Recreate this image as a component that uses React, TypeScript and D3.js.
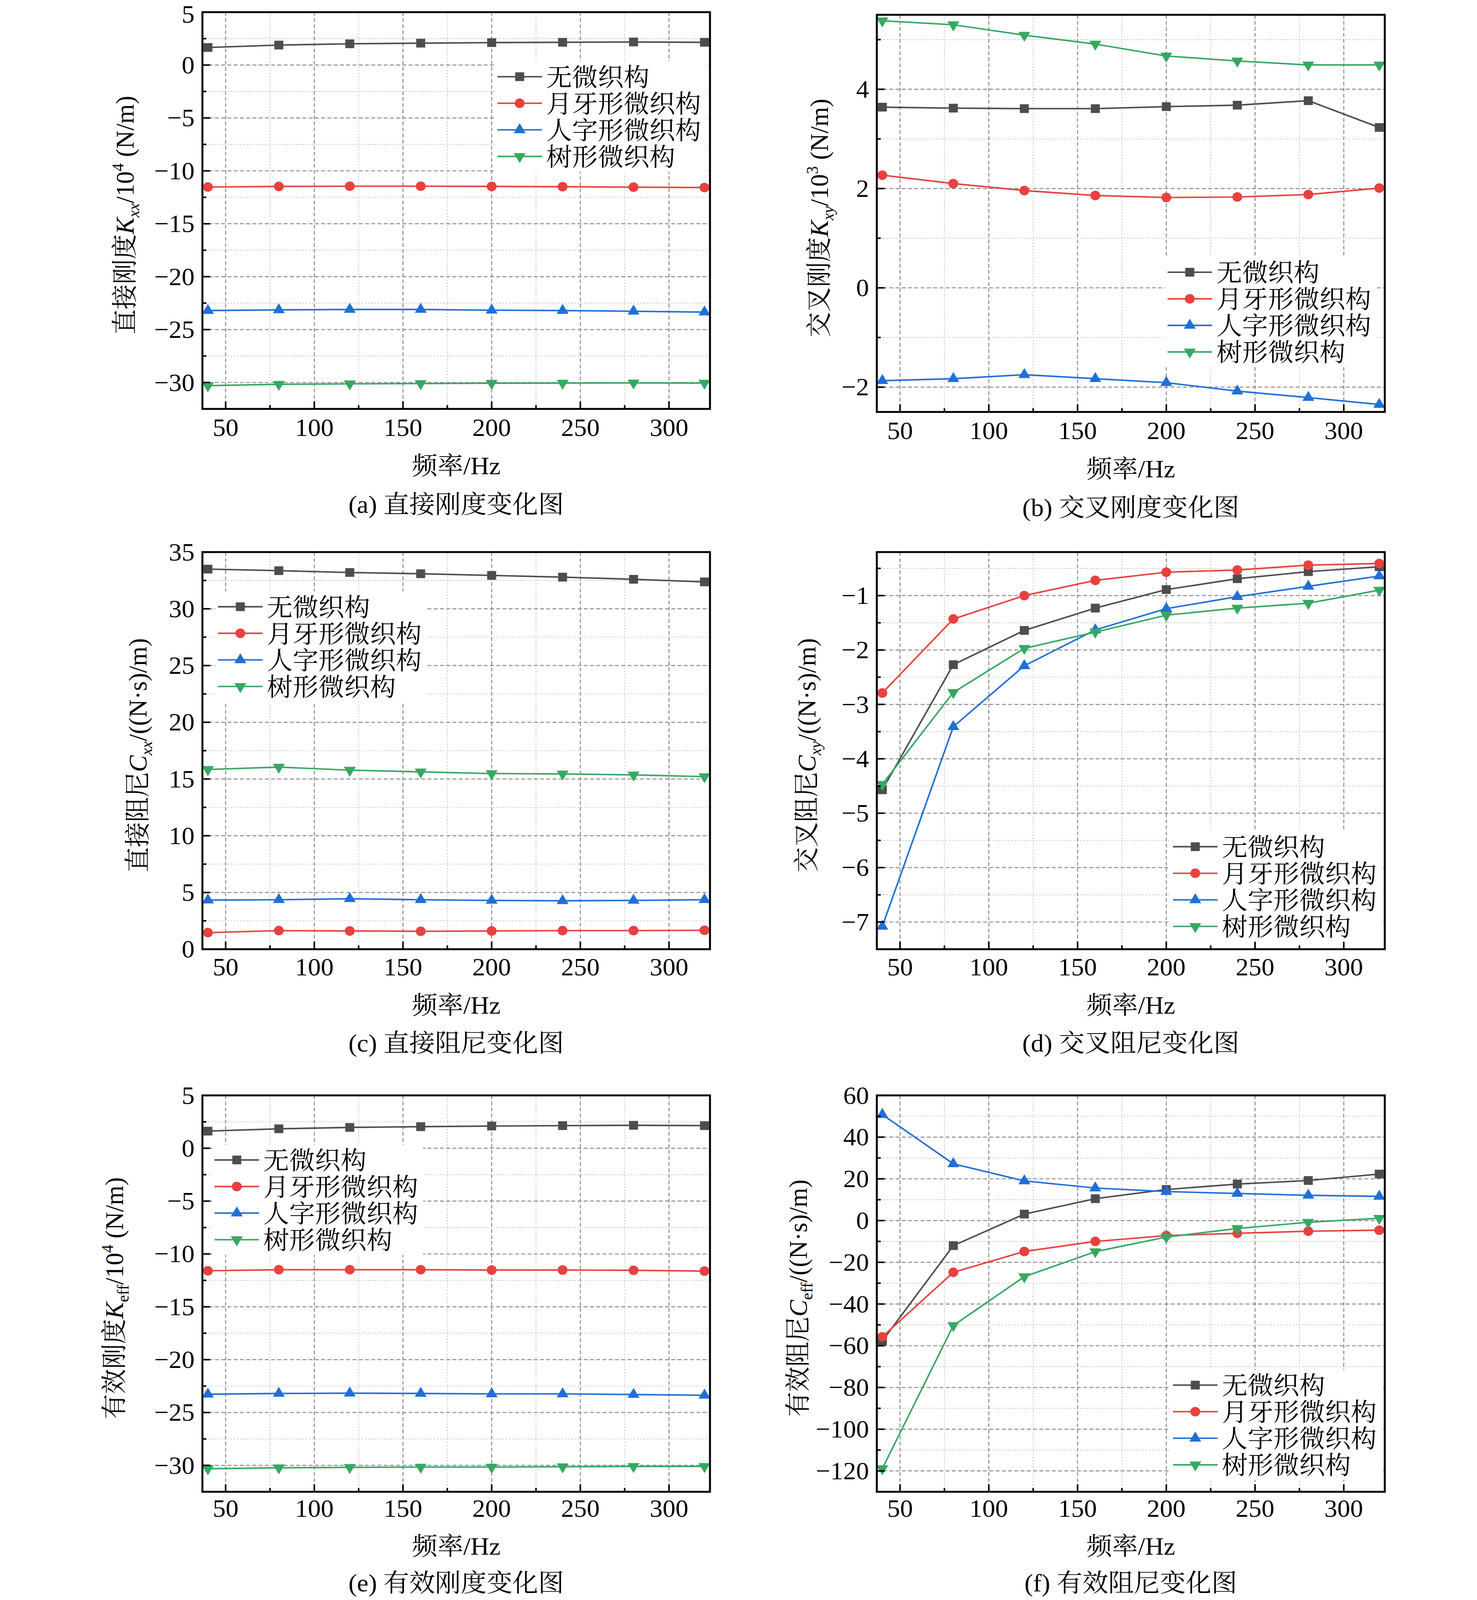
import * as d3 from 'd3';

// shared x axis
const freq = [40, 80, 120, 160, 200, 240, 280, 320];
const freqTicks = [50, 100, 150, 200, 250, 300];
const seriesNames = ['无微织构', '月牙形微织构', '人字形微织构', '树形微织构'];

// (a) direct stiffness Kxx / 10^4 N/m
const kxxNone = [1.66, 1.89, 2.01, 2.07, 2.12, 2.15, 2.18, 2.15];
const kxxCrescent = [-11.53, -11.47, -11.45, -11.45, -11.47, -11.5, -11.54, -11.58];
const kxxChevron = [-23.2, -23.14, -23.1, -23.1, -23.17, -23.2, -23.27, -23.35];
const kxxTree = [-30.3, -30.17, -30.13, -30.1, -30.07, -30.06, -30.04, -30.06];
const kxxTicks = [5, 0, -5, -10, -15, -20, -25, -30];

// (b) cross stiffness Kxy / 10^3 N/m
const kxyNone = [3.64, 3.62, 3.61, 3.61, 3.65, 3.68, 3.77, 3.23];
const kxyCrescent = [2.27, 2.1, 1.96, 1.86, 1.82, 1.83, 1.88, 2.01];
const kxyChevron = [-1.87, -1.83, -1.75, -1.83, -1.91, -2.08, -2.21, -2.35];
const kxyTree = [5.38, 5.3, 5.09, 4.91, 4.67, 4.57, 4.49, 4.49];
const kxyTicks = [4, 2, 0, -2];

// (c) direct damping Cxx
const cxxNone = [33.5, 33.36, 33.2, 33.09, 32.94, 32.79, 32.6, 32.37];
const cxxCrescent = [1.46, 1.64, 1.61, 1.58, 1.61, 1.64, 1.64, 1.67];
const cxxChevron = [4.33, 4.36, 4.45, 4.36, 4.3, 4.27, 4.3, 4.36];
const cxxTree = [15.84, 16.05, 15.78, 15.63, 15.48, 15.45, 15.36, 15.21];
const cxxTicks = [35, 30, 25, 20, 15, 10, 5, 0];

// (d) cross damping Cxy
const cxyNone = [-4.57, -2.27, -1.64, -1.23, -0.89, -0.69, -0.56, -0.47];
const cxyCrescent = [-2.79, -1.43, -1.0, -0.72, -0.57, -0.53, -0.44, -0.41];
const cxyChevron = [-7.08, -3.41, -2.29, -1.63, -1.24, -1.02, -0.83, -0.64];
const cxyTree = [-4.47, -2.78, -1.97, -1.67, -1.36, -1.23, -1.14, -0.9];
const cxyTicks = [-1, -2, -3, -4, -5, -6, -7];

// (e) effective stiffness Keff / 10^4 N/m
const keffNone = [1.62, 1.84, 1.97, 2.04, 2.1, 2.14, 2.17, 2.14];
const keffCrescent = [-11.59, -11.49, -11.49, -11.49, -11.52, -11.52, -11.55, -11.62];
const keffChevron = [-23.27, -23.2, -23.17, -23.2, -23.24, -23.24, -23.3, -23.37];
const keffTree = [-30.32, -30.23, -30.19, -30.16, -30.16, -30.13, -30.1, -30.1];
const keffTicks = [5, 0, -5, -10, -15, -20, -25, -30];

// (f) effective damping Ceff
const ceffNone = [-57.7, -12, 3.1, 10.5, 14.9, 17.5, 19.2, 22.3];
const ceffCrescent = [-55.7, -24.8, -14.8, -10, -7.2, -6.1, -5.1, -4.6];
const ceffChevron = [50.8, 27.2, 19, 15.6, 13.9, 13, 12.1, 11.6];
const ceffTree = [-118.9, -50.3, -26.9, -14.9, -7.9, -3.8, -0.8, 1.1];
const ceffTicks = [60, 40, 20, 0, -20, -40, -60, -80, -100, -120];

const COLORS = ['#4d4d4d', '#e8413f', '#1f6fd8', '#36a862'];
const SHAPES = ['square', 'circle', 'up', 'down'];
const FONT =
  "'Liberation Serif', 'Times New Roman', 'Noto Serif CJK SC', 'Noto Sans CJK SC', serif";
const FS = 66;
const X_DOMAIN: [number, number] = [36.9, 323.1];
// drawing space of the original figure; the viewport is shorter, so it is fitted into it
const W = 3780;
const H = 4214;

type Seg = { t: string; i?: boolean; sub?: boolean; sup?: boolean };

const kLabel = (name: string, sub: string, pow: string, italicSub = true): Seg[] => [
  { t: name },
  { t: 'K', i: true },
  { t: sub, sub: true, i: italicSub },
  { t: '/10' },
  { t: pow, sup: true },
  { t: ' (N/m)' },
];
const cLabel = (name: string, sub: string, italicSub = true): Seg[] => [
  { t: name },
  { t: 'C', i: true },
  { t: sub, sub: true, i: italicSub },
  { t: '/((N·s)/m)' },
];

const panels = [
  {
    id: 'a', left: 518, right: 1817, top: 32, bottom: 1077, yDomain: [-32.5, 5], step: 5,
    ticks: kxxTicks, series: [kxxNone, kxxCrescent, kxxChevron, kxxTree],
    label: kLabel('直接刚度', 'xx', '4'), labelOff: 199, legend: [1273, 202],
    caption: '(a) 直接刚度变化图', gaps: [49, 148, 250],
  },
  {
    id: 'b', left: 2244, right: 3544, top: 39, bottom: 1085, yDomain: [-2.5, 5.5], step: 2,
    ticks: kxyTicks, series: [kxyNone, kxyCrescent, kxyChevron, kxyTree],
    label: kLabel('交叉刚度', 'xy', '3'), labelOff: 148, legend: [2988, 717],
    caption: '(b) 交叉刚度变化图', gaps: [49, 148, 250],
  },
  {
    id: 'c', left: 518, right: 1817, top: 1454, bottom: 2500, yDomain: [0, 35], step: 5,
    ticks: cxxTicks, series: [cxxNone, cxxCrescent, cxxChevron, cxxTree],
    label: cLabel('直接阻尼', 'xx'), labelOff: 166, legend: [558, 1598],
    caption: '(c) 直接阻尼变化图', gaps: [47, 146, 246],
  },
  {
    id: 'd', left: 2244, right: 3544, top: 1454, bottom: 2500, yDomain: [-7.5, -0.2], step: 1,
    ticks: cxyTicks, series: [cxyNone, cxyCrescent, cxyChevron, cxyTree],
    label: cLabel('交叉阻尼', 'xy'), labelOff: 180, legend: [3002, 2230],
    caption: '(d) 交叉阻尼变化图', gaps: [47, 146, 246],
  },
  {
    id: 'e', left: 518, right: 1817, top: 2885, bottom: 3929, yDomain: [-32.5, 5], step: 5,
    ticks: keffTicks, series: [keffNone, keffCrescent, keffChevron, keffTree],
    label: kLabel('有效刚度', 'eff', '4', false), labelOff: 226, legend: [549, 3055],
    caption: '(e) 有效刚度变化图', gaps: [44, 142, 238],
  },
  {
    id: 'f', left: 2244, right: 3544, top: 2885, bottom: 3929, yDomain: [-130, 60], step: 20,
    ticks: ceffTicks, series: [ceffNone, ceffCrescent, ceffChevron, ceffTree],
    label: cLabel('有效阻尼', 'eff', false), labelOff: 202, legend: [3002, 3648],
    caption: '(f) 有效阻尼变化图', gaps: [44, 142, 238],
  },
];

const fmt = (v: number) => (v < 0 ? `\u2212${Math.abs(v)}` : `${v}`);

const symbolPath = (shape: string) => {
  if (shape === 'square') return d3.symbol(d3.symbolSquare, 529)()!;
  if (shape === 'circle') return d3.symbol(d3.symbolCircle, 500)()!;
  return d3.symbol(d3.symbolTriangle, 400)()!;
};

const Marker = ({ x, y, k }: { x: number; y: number; k: number }) => (
  <path
    d={symbolPath(SHAPES[k])}
    transform={`translate(${x},${y})${SHAPES[k] === 'down' ? ' rotate(180)' : ''}`}
    fill={COLORS[k]}
  />
);

// rotated axis title with italic symbol, sub- and superscripts
const LabelText = ({ segs }: { segs: Seg[] }) => {
  let shift = 0;
  return (
    <>
      {segs.map((s, i) => {
        const target = s.sub ? 14 : s.sup ? -26 : 0;
        const dy = target - shift;
        shift = target;
        return (
          <tspan
            key={i}
            dy={dy}
            fontStyle={s.i ? 'italic' : 'normal'}
            fontSize={s.sub || s.sup ? 42 : FS}
          >
            {s.t}
          </tspan>
        );
      })}
    </>
  );
};

function Panel({ p }: { p: (typeof panels)[number] }) {
  const x = d3.scaleLinear().domain(X_DOMAIN).range([p.left, p.right]);
  const y = d3.scaleLinear().domain(p.yDomain).range([p.bottom, p.top]);
  const [yMin, yMax] = p.yDomain;
  const eps = 1e-6;
  const half = p.step / 2;

  const xMinor = d3
    .range(25, 350, 50)
    .filter((v) => v > X_DOMAIN[0] && v < X_DOMAIN[1]);
  const yMinor = d3
    .range(Math.ceil(yMin / half) * half, yMax + eps, half)
    .filter((v) => !p.ticks.some((m) => Math.abs(m - v) < eps));
  const inside = (v: number) => v > yMin + 0.01 && v < yMax - 0.01;

  const line = d3
    .line<number>()
    .x((_, i) => x(freq[i]))
    .y((d) => y(d));

  const cx = (p.left + p.right) / 2;
  const [lx, ly] = p.legend;

  return (
    <g>
      {/* minor grid */}
      {xMinor.map((v) => (
        <line key={`xm${v}`} x1={x(v)} x2={x(v)} y1={p.top} y2={p.bottom}
          stroke="#c8c8c8" strokeWidth={2} strokeDasharray="4 4" />
      ))}
      {yMinor.filter(inside).map((v) => (
        <line key={`ym${v}`} x1={p.left} x2={p.right} y1={y(v)} y2={y(v)}
          stroke="#c8c8c8" strokeWidth={2} strokeDasharray="4 4" />
      ))}
      {/* major grid */}
      {freqTicks.map((v) => (
        <line key={`xg${v}`} x1={x(v)} x2={x(v)} y1={p.top} y2={p.bottom}
          stroke="#8a8a8a" strokeWidth={2.5} strokeDasharray="10 6" />
      ))}
      {p.ticks.filter(inside).map((v) => (
        <line key={`yg${v}`} x1={p.left} x2={p.right} y1={y(v)} y2={y(v)}
          stroke="#8a8a8a" strokeWidth={2.5} strokeDasharray="10 6" />
      ))}

      {/* series */}
      {p.series.map((vals, k) => (
        <g key={`s${k}`}>
          <path d={line(vals)!} fill="none" stroke={COLORS[k]} strokeWidth={4} />
          {vals.map((v, i) => (
            <Marker key={i} x={x(freq[i])} y={y(v)} k={k} />
          ))}
        </g>
      ))}

      {/* ticks, inward */}
      {freqTicks.map((v) => (
        <line key={`xt${v}`} x1={x(v)} x2={x(v)} y1={p.bottom} y2={p.bottom - 20}
          stroke="#000" strokeWidth={4} />
      ))}
      {xMinor.map((v) => (
        <line key={`xmt${v}`} x1={x(v)} x2={x(v)} y1={p.bottom} y2={p.bottom - 10}
          stroke="#000" strokeWidth={4} />
      ))}
      {p.ticks.map((v) => (
        <line key={`yt${v}`} x1={p.left} x2={p.left + 20} y1={y(v)} y2={y(v)}
          stroke="#000" strokeWidth={4} />
      ))}
      {yMinor.map((v) => (
        <line key={`ymt${v}`} x1={p.left} x2={p.left + 10} y1={y(v)} y2={y(v)}
          stroke="#000" strokeWidth={4} />
      ))}
      <rect x={p.left} y={p.top} width={p.right - p.left} height={p.bottom - p.top}
        fill="none" stroke="#000" strokeWidth={5} />

      {/* tick labels */}
      {freqTicks.map((v) => (
        <text key={`xl${v}`} x={x(v)} y={p.bottom + p.gaps[0] + 22} textAnchor="middle">
          {fmt(v)}
        </text>
      ))}
      {p.ticks.map((v) => (
        <text key={`yl${v}`} x={p.left - 20} y={Math.max(y(v) + 22, 60)} textAnchor="end">
          {fmt(v)}
        </text>
      ))}

      {/* axis titles */}
      <text x={cx} y={p.bottom + p.gaps[1] + 24} textAnchor="middle">频率/Hz</text>
      <text x={cx} y={p.bottom + p.gaps[2] + 24} textAnchor="middle">{p.caption}</text>
      <text
        transform={`translate(${p.left - p.labelOff},${(p.top + p.bottom) / 2 + 12}) rotate(-90)`}
        y={23}
        textAnchor="middle"
      >
        <LabelText segs={p.label} />
      </text>

      {/* legend with white backing */}
      <rect x={lx - 6} y={ly - 40} width={540} height={3 * 70 + 80} fill="#fff" />
      {seriesNames.map((name, k) => (
        <g key={`lg${k}`}>
          <line x1={lx} x2={lx + 114} y1={ly + k * 70} y2={ly + k * 70}
            stroke={COLORS[k]} strokeWidth={4} />
          <Marker x={lx + 57} y={ly + k * 70} k={k} />
          <text x={lx + 125} y={ly + k * 70 + 24}>{name}</text>
        </g>
      ))}
    </g>
  );
}

export default function App() {
  return (
    <>
      <style>{'html,body{margin:0;overflow:hidden}'}</style>
      <svg
        viewBox={`0 0 ${W} ${H}`}
        preserveAspectRatio="none"
        style={{ display: 'block', width: '100vw', height: '100vh', background: '#fff' }}
        fontFamily={FONT}
        fontSize={FS}
        fill="#000"
      >
        <rect width={W} height={H} fill="#fff" />
        {panels.map((p) => (
          <Panel key={p.id} p={p} />
        ))}
      </svg>
    </>
  );
}
